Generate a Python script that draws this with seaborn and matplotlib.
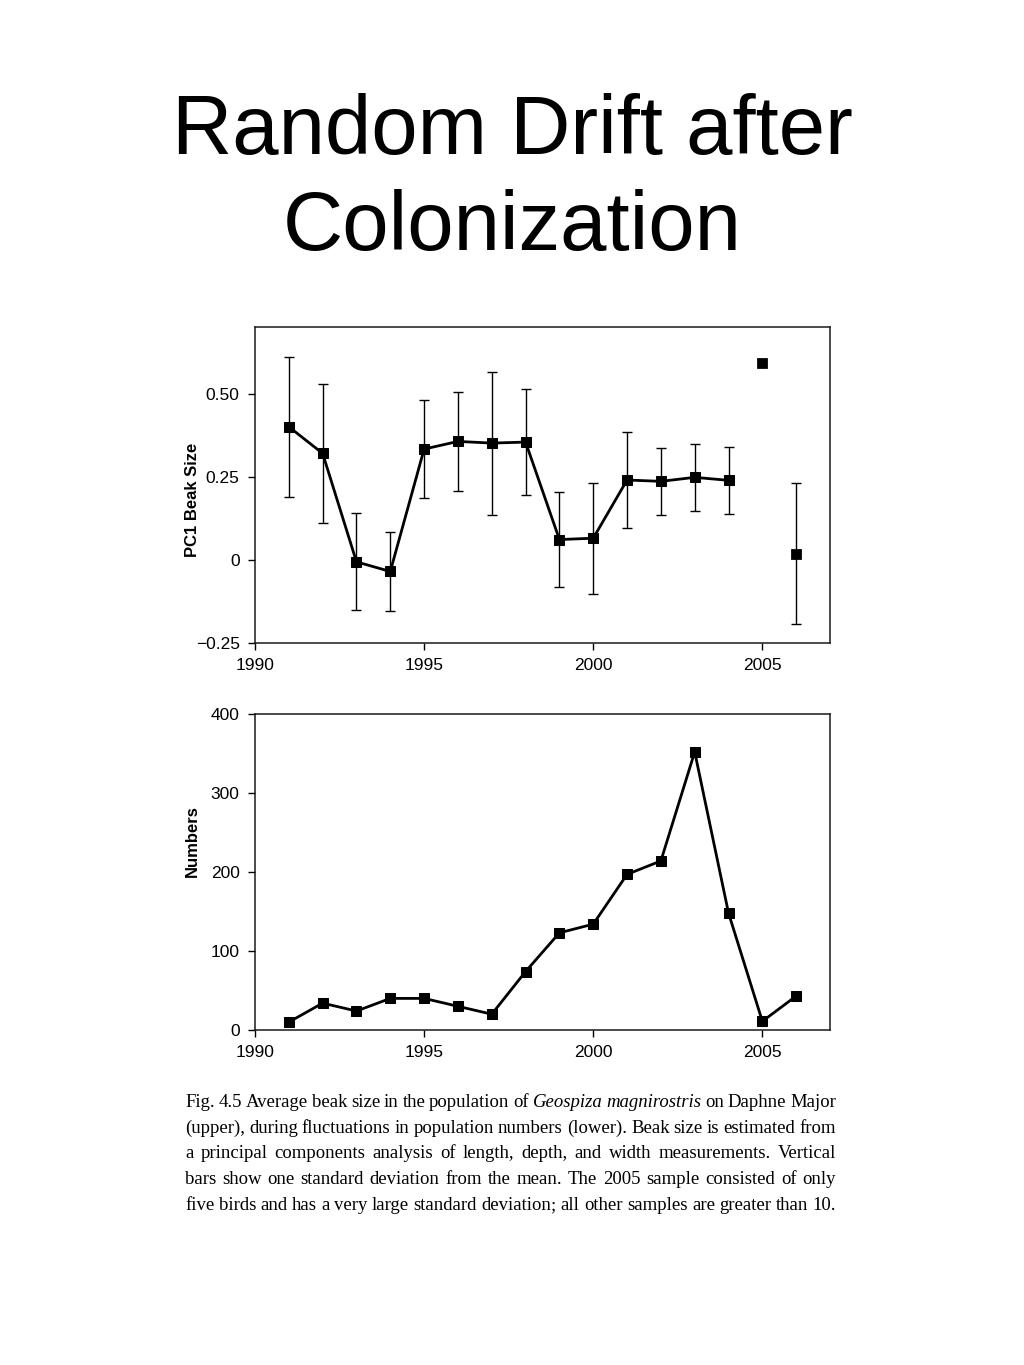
import matplotlib
matplotlib.use("Agg")
import matplotlib.pyplot as plt
import seaborn as sns
import pandas as pd

# --- Dati ---
years = list(range(1991, 2007))
beak_mean = [0.40, 0.32, -0.006, -0.035, 0.333, 0.356, 0.351, 0.354,
             0.061, 0.065, 0.240, 0.236, 0.248, 0.239, 0.592, 0.018]
beak_sd = [0.21, 0.21, 0.146, 0.118, 0.148, 0.148, 0.215, 0.16,
           0.143, 0.167, 0.145, 0.101, 0.101, 0.10, None, 0.212]
linked = [True] * 14 + [False, False]
numbers = [10, 34, 24, 40, 40, 30, 20, 74, 123, 134, 197, 214, 352, 148, 11, 43]

x_ticks = [1990, 1995, 2000, 2005]
beak_ticks = [-0.25, 0, 0.25, 0.50]
beak_tick_labels = ["\u22120.25", "0", "0.25", "0.50"]
num_ticks = [0, 100, 200, 300, 400]

title_lines = ["Random Drift after", "Colonization"]
caption_lines = [
    "Fig. 4.5 Average beak size in the population of Geospiza magnirostris on Daphne Major",
    "(upper), during fluctuations in population numbers (lower). Beak size is estimated from",
    "a principal components analysis of length, depth, and width measurements. Vertical",
    "bars show one standard deviation from the mean. The 2005 sample consisted of only",
    "five birds and has a very large standard deviation; all other samples are greater than 10.",
]
italic_words = {"Geospiza", "magnirostris"}

beak = pd.DataFrame({"year": years, "mean": beak_mean, "sd": beak_sd, "linked": linked})
pop = pd.DataFrame({"year": years, "n": numbers})

sns.set_theme(style="ticks")
plt.rcParams["font.family"] = ["Liberation Sans", "DejaVu Sans"]
plt.rcParams["text.color"] = "black"
plt.rcParams["axes.labelcolor"] = "black"

W, H = 1024, 1365
fig = plt.figure(figsize=(W / 100, H / 100), dpi=100, facecolor="white")

# posizione assi in pixel (left, top, right, bottom)
def add_axes_px(l, t, r, b):
    return fig.add_axes([l / W, 1 - b / H, (r - l) / W, (b - t) / H])

ax1 = add_axes_px(255, 327, 830, 643)
ax2 = add_axes_px(255, 714, 830, 1030)

# Grafico superiore: dimensione del becco
eb = beak.dropna(subset=["sd"])
ax1.errorbar(eb["year"], eb["mean"], yerr=eb["sd"], fmt="none", ecolor="black",
             elinewidth=1.0, capsize=3.5, capthick=1.0, zorder=2)
sns.lineplot(data=beak[beak["linked"]], x="year", y="mean", ax=ax1, color="black",
             linewidth=2.0, marker="s", markersize=7, markeredgecolor="black", zorder=3)
sns.scatterplot(data=beak[~beak["linked"]], x="year", y="mean", ax=ax1, color="black",
                marker="s", s=49, edgecolor="black", zorder=3)
ax1.set_xlim(1990, 2007)
ax1.set_ylim(-0.25, 0.70)
ax1.set_yticks(beak_ticks)
ax1.set_yticklabels(beak_tick_labels)
ax1.set_ylabel("PC1 Beak Size", fontsize=12, fontweight="bold")
ax1.yaxis.set_label_coords(-0.095, 0.453)

# Grafico inferiore: numero di individui
sns.lineplot(data=pop, x="year", y="n", ax=ax2, color="black", linewidth=2.0,
             marker="s", markersize=7, markeredgecolor="black")
ax2.set_xlim(1990, 2007)
ax2.set_ylim(0, 400)
ax2.set_yticks(num_ticks)
ax2.set_ylabel("Numbers", fontsize=12, fontweight="bold")
ax2.yaxis.set_label_coords(-0.095, 0.598)

for ax in (ax1, ax2):
    ax.set_xticks(x_ticks)
    ax.set_xlabel("")
    ax.tick_params(direction="out", length=5, width=1, labelsize=12.5, pad=6, colors="black")
    for s in ax.spines.values():
        s.set_visible(True)
        s.set_linewidth(1.1)
        s.set_color("#1a1a1a")

# Titolo
fig.text(0.5, 1 - 154 / H, title_lines[0], ha="center", va="baseline", fontsize=60)
fig.text(0.5, 1 - 250 / H, title_lines[1], ha="center", va="baseline", fontsize=60)

# Didascalia giustificata, parola per parola
# il ";" finale va in un testo a parte: attaccato alla parola la sposta in basso
renderer = fig.canvas.get_renderer()
left, right = 185, 836
baselines = [1107, 1133, 1158.5, 1184, 1210]
for line, yb in zip(caption_lines, baselines):
    words = line.split()
    groups = []
    for w in words:
        style = "italic" if w in italic_words else "normal"
        pieces = [w[:-1], w[-1]] if w.endswith(";") else [w]
        grp = [fig.text(0, 1 - yb / H, p, fontsize=13.5, family="Liberation Serif",
                        style=style, color="black", va="baseline") for p in pieces]
        groups.append((grp, [t.get_window_extent(renderer).width for t in grp]))
    total = sum(sum(ws) for _, ws in groups)
    gap = (right - left - total) / (len(groups) - 1)
    x = left
    for grp, ws in groups:
        for t, w in zip(grp, ws):
            t.set_x(x / W)
            x += w
        x += gap

fig.savefig("out.png", dpi=100, facecolor="white")
